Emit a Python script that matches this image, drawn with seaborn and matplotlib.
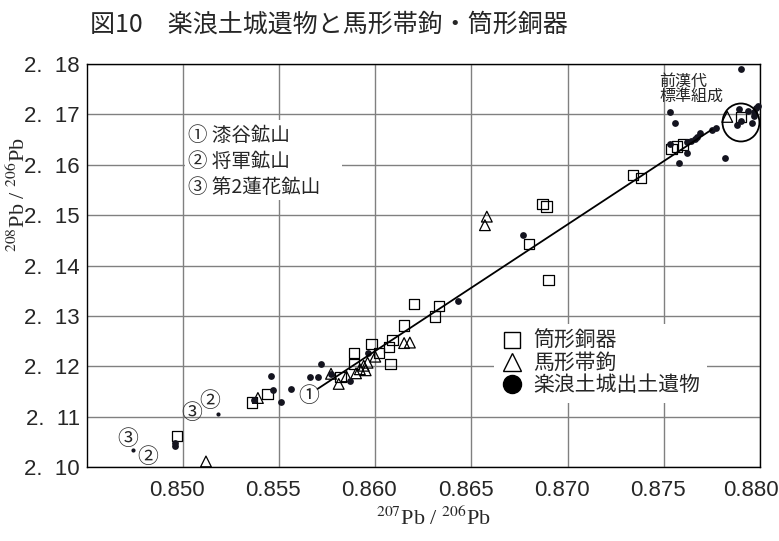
import matplotlib
matplotlib.use("Agg")
import matplotlib.pyplot as plt
from matplotlib import font_manager
from matplotlib.lines import Line2D
from matplotlib.patches import Ellipse, Rectangle
from matplotlib.transforms import ScaledTranslation
import seaborn as sns
import pandas as pd

# 207Pb/206Pb (x) and 208Pb/206Pb (y) ratios
tube_x = [0.8497, 0.8536, 0.8544, 0.8582, 0.8589, 0.8589, 0.8598, 0.8602, 0.8607,
          0.8609, 0.8608, 0.8615, 0.8620, 0.8631, 0.8633, 0.8680, 0.8687, 0.8689,
          0.8690, 0.8734, 0.8738, 0.8754, 0.8757, 0.8760, 0.8790]
tube_y = [2.1062, 2.1128, 2.1145, 2.1178, 2.1205, 2.1226, 2.1244, 2.1226, 2.1238,
          2.1252, 2.1204, 2.1281, 2.1324, 2.1299, 2.1320, 2.1443, 2.1522, 2.1517,
          2.1371, 2.1580, 2.1574, 2.1631, 2.1636, 2.1640, 2.1695]

buckle_x = [0.8512, 0.8539, 0.8577, 0.8581, 0.8585, 0.8590, 0.8592, 0.8595, 0.8594,
            0.8596, 0.8600, 0.8615, 0.8618, 0.8658, 0.8657, 0.8783]
buckle_y = [2.1011, 2.1137, 2.1185, 2.1165, 2.1180, 2.1186, 2.1194, 2.1192, 2.1201,
            2.1207, 2.1219, 2.1246, 2.1247, 2.1497, 2.1480, 2.1695]

site_x = [0.8496, 0.8496, 0.8537, 0.8546, 0.8547, 0.8551, 0.8556, 0.8566, 0.8570,
          0.8572, 0.8577, 0.8587, 0.8596, 0.8643, 0.8677, 0.8753, 0.8756, 0.8753,
          0.8758, 0.8762, 0.8762, 0.8764, 0.8766, 0.8767, 0.8769, 0.8775, 0.8777,
          0.8782, 0.8790, 0.8789, 0.8794, 0.8797, 0.8799, 0.8797, 0.8790, 0.8788,
          0.8796, 0.8798]
site_y = [2.1047, 2.1041, 2.1133, 2.1180, 2.1153, 2.1129, 2.1155, 2.1178, 2.1178,
          2.1204, 2.1184, 2.1170, 2.1226, 2.1330, 2.1461, 2.1705, 2.1683, 2.1641,
          2.1604, 2.1646, 2.1624, 2.1647, 2.1651, 2.1655, 2.1663, 2.1669, 2.1673,
          2.1614, 2.1791, 2.1710, 2.1706, 2.1705, 2.1717, 2.1697, 2.1686, 2.1678,
          2.1682, 2.1713]

# ore samples (mines 2 and 3)
ore_x = [0.8474, 0.8518]
ore_y = [2.1034, 2.1105]

# mixing line: mine 1 to Former Han standard composition
line_x = [0.8570, 0.8775]
line_y = [2.1155, 2.1670]

x_ticks = [0.850, 0.855, 0.860, 0.865, 0.870, 0.875, 0.880]
y_ticks = [2.10, 2.11, 2.12, 2.13, 2.14, 2.15, 2.16, 2.17, 2.18]

legend_labels = ["筒形銅器", "馬形帯鉤", "楽浪土城出土遺物"]
mine_labels = ["① 漆谷鉱山", "② 将軍鉱山", "③ 第2蓮花鉱山"]
title = "図10　楽浪土城遺物と馬形帯鉤・筒形銅器"

sns.set_style("white")
CJK = ["Noto Sans CJK JP", "DejaVu Sans"]
plt.rcParams["font.family"] = CJK
plt.rcParams["mathtext.fontset"] = "stix"

names = {f.name for f in font_manager.fontManager.ttflist}
tick_font = "Liberation Sans Narrow" if "Liberation Sans Narrow" in names else "Liberation Sans"

W, H = 779, 541
fig = plt.figure(figsize=(W / 100, H / 100), dpi=100)
ax = fig.add_axes([86.7 / W, 1 - 467 / H, 673.3 / W, 403 / H])

def fx(px):
    return px / W

def fy(py):
    return 1 - py / H

tube = pd.DataFrame({"x": tube_x, "y": tube_y})
buckle = pd.DataFrame({"x": buckle_x, "y": buckle_y})
site = pd.DataFrame({"x": site_x, "y": site_y})
ore = pd.DataFrame({"x": ore_x, "y": ore_y})

sns.scatterplot(data=tube, x="x", y="y", marker="s", s=55, facecolor="none",
                edgecolor="black", linewidth=0.9, ax=ax, zorder=3)
sns.scatterplot(data=buckle, x="x", y="y", marker="^", s=60, facecolor="none",
                edgecolor="black", linewidth=0.9, ax=ax, zorder=3)
sns.scatterplot(data=site, x="x", y="y", marker="o", s=24, color="#14141f",
                edgecolor="#14141f", linewidth=0, ax=ax, zorder=3, clip_on=False)
sns.scatterplot(data=ore, x="x", y="y", marker="o", s=9, color="#14141f",
                edgecolor="#14141f", linewidth=0, ax=ax, zorder=3)
sns.lineplot(x=line_x, y=line_y, color="black", lw=1.3, ax=ax, zorder=4)

ax.set_xlim(0.845, 0.880)
ax.set_ylim(2.10, 2.18)
ax.set_xticks(x_ticks)
ax.set_yticks(y_ticks)
ax.set_xticklabels([f"{v:.3f}" for v in x_ticks], fontfamily=tick_font, fontsize=16)
ax.set_yticklabels([f"{v:.2f}".replace(".", ".  ") for v in y_ticks],
                   fontfamily=tick_font, fontsize=16)
ax.tick_params(length=0, pad=5)
ax.tick_params(axis="x", pad=9)
xlabels = ax.get_xticklabels()
for i, lab in enumerate(xlabels):
    dx = -9 if i == len(xlabels) - 1 else -6
    lab.set_transform(lab.get_transform() + ScaledTranslation(dx / 100, 0, fig.dpi_scale_trans))
ax.set_xlabel("")
ax.set_ylabel("")
ax.grid(True, color="#808080", lw=1.0)
ax.set_axisbelow(True)
for sp in ax.spines.values():
    sp.set_color("black")
    sp.set_linewidth(1.0)

# Former Han standard composition
ax.add_patch(Ellipse((0.87901, 2.16839), 0.00192, 0.00754, fill=False,
                     ec="black", lw=1.3, zorder=5, clip_on=False))
fig.text(fx(659), fy(81), "前漢代", fontsize=11.5, ha="left", va="center")
fig.text(fx(659), fy(97), "標準組成", fontsize=11.5, ha="left", va="center")

# mine markers
for s, (px, py) in zip(["①", "③", "②", "③", "②"],
                       [(309, 396), (192, 413), (210, 401), (128, 439), (148, 457)]):
    fig.text(fx(px), fy(py), s, fontsize=15, ha="center", va="center", zorder=6)

# mine key
ax.add_patch(Rectangle((fx(185), fy(200)), 157 / W, 80 / H, transform=fig.transFigure,
                       facecolor="white", edgecolor="none", zorder=1))
for lab, py in zip(mine_labels, [135, 161.5, 187.5]):
    fig.text(fx(188), fy(py), lab, fontsize=14, ha="left", va="center")

# legend
handles = [
    Line2D([], [], marker="s", ls="none", mfc="none", mec="black", ms=12, mew=1.0),
    Line2D([], [], marker="^", ls="none", mfc="none", mec="black", ms=13, mew=1.0),
    Line2D([], [], marker="o", ls="none", mfc="black", mec="black", ms=13),
]
ax.legend(handles, legend_labels, loc="upper left", bbox_to_anchor=(fx(494), fy(324)),
          bbox_transform=fig.transFigure, frameon=True, fancybox=False,
          edgecolor="none", facecolor="white", framealpha=1,
          prop=dict(family=CJK, size=15), handlelength=1.1, handletextpad=0.5,
          labelspacing=0.0, borderpad=0.3, borderaxespad=0)

# titles and axis labels
fig.text(fx(329), fy(25), title, fontsize=18, ha="center", va="center")
fig.text(fx(18), fy(195), r"$^{208}$Pb / $^{206}$Pb", rotation=90, fontsize=16,
         family="Liberation Serif", ha="center", va="center")
fig.text(fx(433), fy(518), r"$^{207}$Pb / $^{206}$Pb", fontsize=16,
         family="Liberation Serif", ha="center", va="center")

fig.savefig("out.png", dpi=100)
